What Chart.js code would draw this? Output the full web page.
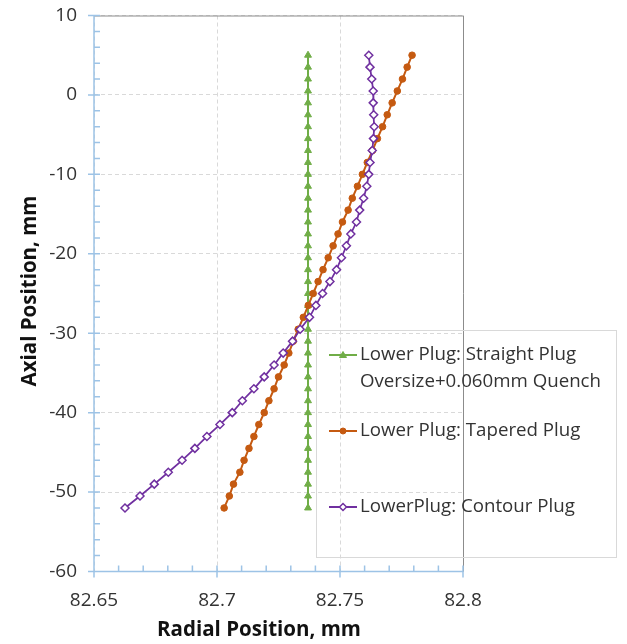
<!DOCTYPE html>
<html>
<head>
<meta charset="utf-8">
<script src="https://cdn.jsdelivr.net/npm/chart.js@4/dist/chart.umd.min.js"></script>
<style>
  html, body { margin: 0; padding: 0; background: #fff; }
  #wrap { width: 627px; height: 644px; }
</style>
</head>
<body>
<div id="wrap"><canvas id="plugchart" width="627" height="644"></canvas></div>
<script>
// axial positions (mm), shared by the three series
const axialPos = [5, 3.5, 2, 0.5, -1, -2.5, -4, -5.5, -7, -8.5, -10, -11.5, -13, -14.5, -16, -17.5,
    -19, -20.5, -22, -23.5, -25, -26.5, -28, -29.5, -31, -32.5, -34, -35.5, -37, -38.5, -40, -41.5,
    -43, -44.5, -46, -47.5, -49, -50.5, -52];

const straightRadial = [82.737, 82.737, 82.737, 82.737, 82.737, 82.737, 82.737, 82.737, 82.737, 82.737,
    82.737, 82.737, 82.737, 82.737, 82.737, 82.737, 82.737, 82.737, 82.737, 82.737,
    82.737, 82.737, 82.737, 82.737, 82.737, 82.737, 82.737, 82.737, 82.737, 82.737,
    82.737, 82.737, 82.737, 82.737, 82.737, 82.737, 82.737, 82.737, 82.737];

const taperedRadial = [82.7793, 82.7773, 82.7754, 82.7733, 82.7712, 82.7692, 82.7673, 82.7652, 82.7632, 82.7611,
    82.7591, 82.7571, 82.7550, 82.7533, 82.7510, 82.7492, 82.7472, 82.7452, 82.7431, 82.7411,
    82.7391, 82.7371, 82.7351, 82.7330, 82.7310, 82.7292, 82.7273, 82.7250, 82.7232, 82.7211,
    82.7192, 82.7170, 82.7150, 82.7130, 82.7110, 82.7093, 82.7067, 82.7050, 82.7029];

const contourRadial = [82.7617, 82.7622, 82.7629, 82.7635, 82.7635, 82.7637, 82.7639, 82.7636, 82.7631, 82.7622,
    82.7617, 82.7609, 82.7596, 82.7580, 82.7567, 82.7544, 82.7526, 82.7506, 82.7486, 82.7459,
    82.7429, 82.7402, 82.7376, 82.7338, 82.7307, 82.7269, 82.7232, 82.7192, 82.7150, 82.7103,
    82.7062, 82.7012, 82.6959, 82.6910, 82.6858, 82.6802, 82.6745, 82.6687, 82.6626];

const seriesNames = [
    ['Lower Plug: Straight Plug', 'Oversize+0.060mm Quench'],
    ['Lower Plug: Tapered Plug'],
    ['LowerPlug: Contour Plug']
];
const xTicks = [82.65, 82.7, 82.75, 82.8];
const yTicks = [-60, -50, -40, -30, -20, -10, 0, 10];
const xTitle = 'Radial Position, mm';
const yTitle = 'Axial Position, mm';

const FONT = '"Open Sans", "DejaVu Sans", sans-serif';
const GREEN = '#70ad47', ORANGE = '#c55a11', PURPLE = '#7030a0';
const AXIS_BLUE = '#9dc3e6';

function pairs(xs) {
    return axialPos.map((y, i) => ({ x: xs[i], y: y }));
}

// axes, tick marks and plot border drawn the Excel way
const frame = {
    id: 'frame',
    beforeDatasetsDraw(chart) {
        const ctx = chart.ctx;
        const a = chart.chartArea;
        const xs = chart.scales.x, ys = chart.scales.y;
        ctx.save();
        ctx.strokeStyle = '#8c8c8c';
        ctx.lineWidth = 1;
        ctx.beginPath();
        ctx.moveTo(a.left, a.top + 0.5);
        ctx.lineTo(a.right + 0.5, a.top + 0.5);
        ctx.lineTo(a.right + 0.5, a.bottom);
        ctx.stroke();

        ctx.strokeStyle = AXIS_BLUE;
        ctx.lineWidth = 1.5;
        ctx.beginPath();
        ctx.moveTo(a.left, a.top);
        ctx.lineTo(a.left, a.bottom);
        ctx.lineTo(a.right, a.bottom);
        // minor ticks (inside)
        for (let v = -60; v <= 10; v += 2) {
            let p = ys.getPixelForValue(v);
            ctx.moveTo(a.left, p);
            ctx.lineTo(a.left + 6, p);
        }
        for (let k = 0; k <= 15; k++) {
            let p = xs.getPixelForValue(82.65 + k * 0.01);
            ctx.moveTo(p, a.bottom);
            ctx.lineTo(p, a.bottom - 6);
        }
        // major ticks (cross)
        yTicks.forEach(v => {
            let p = ys.getPixelForValue(v);
            ctx.moveTo(a.left - 6, p);
            ctx.lineTo(a.left + 6, p);
        });
        xTicks.forEach(v => {
            let p = xs.getPixelForValue(v);
            ctx.moveTo(p, a.bottom - 6);
            ctx.lineTo(p, a.bottom + 6);
        });
        ctx.stroke();

        // axis titles (Excel puts the x title left of the plot centre)
        ctx.fillStyle = '#111111';
        ctx.font = 'bold 20.5px ' + FONT;
        ctx.textAlign = 'center';
        ctx.textBaseline = 'middle';
        ctx.fillText(xTitle, 259, 630);
        ctx.translate(30, 291);
        ctx.rotate(-Math.PI / 2);
        ctx.fillText(yTitle, 0, 0);
        ctx.restore();
    }
};

// legend box sitting over the lower right of the plot
const boxLegend = {
    id: 'boxLegend',
    afterDraw(chart) {
        const ctx = chart.ctx;
        const ds = chart.data.datasets;
        const rows = [355, 431, 507];
        ctx.save();
        ctx.strokeStyle = '#d9d9d9';
        ctx.lineWidth = 1;
        ctx.strokeRect(316.5, 330.5, 300, 227);
        ctx.font = '18.7px ' + FONT;
        ctx.textBaseline = 'middle';
        seriesNames.forEach((lines, i) => {
            let y = rows[i];
            let d = ds[i];
            ctx.strokeStyle = d.borderColor;
            ctx.lineWidth = 2;
            ctx.beginPath();
            ctx.moveTo(329, y);
            ctx.lineTo(357, y);
            ctx.stroke();
            ctx.fillStyle = d.pointBackgroundColor;
            ctx.strokeStyle = d.pointBorderColor;
            ctx.lineWidth = d.pointBorderWidth;
            ctx.beginPath();
            if (d.pointStyle === 'triangle') {
                ctx.moveTo(343, y - 3.5); ctx.lineTo(346.5, y + 2.5); ctx.lineTo(339.5, y + 2.5);
            } else if (d.pointStyle === 'circle') {
                ctx.arc(343, y, 3, 0, Math.PI * 2);
            } else {
                ctx.moveTo(343, y - 3.5); ctx.lineTo(346.5, y); ctx.lineTo(343, y + 3.5); ctx.lineTo(339.5, y);
            }
            ctx.closePath();
            ctx.fill();
            ctx.stroke();
            ctx.fillStyle = '#333333';
            lines.forEach((t, j) => ctx.fillText(t, 360, y + j * 27));
        });
        ctx.restore();
    }
};

const ctx = document.getElementById('plugchart').getContext('2d');

new Chart(ctx, {
    type: 'scatter',
    data: {
        datasets: [
            {
                label: seriesNames[0].join(' '),
                data: pairs(straightRadial),
                showLine: true,
                borderColor: GREEN,
                borderWidth: 2,
                pointStyle: 'triangle',
                pointRadius: 4,
                pointBackgroundColor: GREEN,
                pointBorderColor: GREEN,
                pointBorderWidth: 1,
                order: 2
            },
            {
                label: seriesNames[1].join(' '),
                data: pairs(taperedRadial),
                showLine: true,
                borderColor: ORANGE,
                borderWidth: 2,
                pointStyle: 'circle',
                pointRadius: 3.3,
                pointBackgroundColor: ORANGE,
                pointBorderColor: ORANGE,
                pointBorderWidth: 1,
                order: 1
            },
            {
                label: seriesNames[2].join(' '),
                data: pairs(contourRadial),
                showLine: true,
                borderColor: PURPLE,
                borderWidth: 1.75,
                pointStyle: 'rectRot',
                pointRadius: 4,
                pointBackgroundColor: '#ffffff',
                pointBorderColor: PURPLE,
                pointBorderWidth: 1.5,
                order: 0
            }
        ]
    },
    options: {
        responsive: false,
        animation: false,
        layout: { padding: { top: 15.5, right: 164, left: 0, bottom: 0 } },
        plugins: {
            legend: { display: false },
            tooltip: { enabled: false }
        },
        scales: {
            x: {
                type: 'linear',
                min: 82.65,
                max: 82.8,
                afterBuildTicks: s => { s.ticks = xTicks.map(v => ({ value: v })); },
                afterFit: s => { s.height = 72.5; s.paddingLeft = 0; s.paddingRight = 0; },
                ticks: {
                    padding: 18,
                    color: '#333333',
                    font: { family: FONT, size: 19 },
                    maxRotation: 0,
                    callback: v => String(Number(v.toFixed(2)))
                },
                grid: { color: '#d9d9d9', lineWidth: 1, drawTicks: false },
                border: { display: false, dash: [4, 3] }
            },
            y: {
                type: 'linear',
                min: -60,
                max: 10,
                afterBuildTicks: s => { s.ticks = yTicks.map(v => ({ value: v })); },
                afterFit: s => { s.width = 94; s.paddingTop = 0; s.paddingBottom = 0; },
                ticks: {
                    padding: 17,
                    color: '#333333',
                    font: { family: FONT, size: 19 }
                },
                grid: { color: '#d9d9d9', lineWidth: 1, drawTicks: false },
                border: { display: false, dash: [4, 3] }
            }
        }
    },
    plugins: [frame, boxLegend]
});
</script>
</body>
</html>
